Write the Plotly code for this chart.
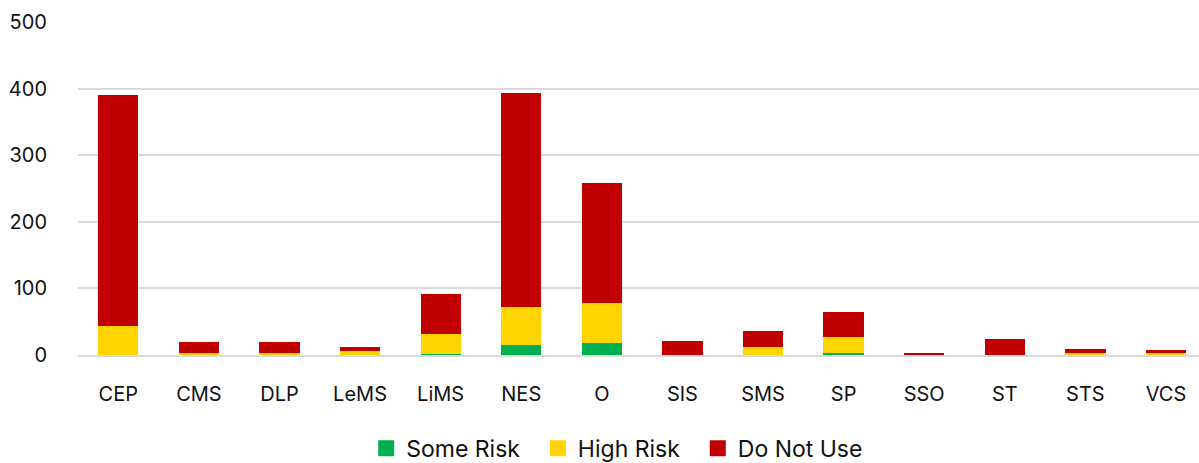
import plotly.graph_objects as go

categories = ["CEP", "CMS", "DLP", "LeMS", "LiMS", "NES", "O", "SIS", "SMS", "SP", "SSO", "ST", "STS", "VCS"]
some_risk = [0, 0, 0, 0, 2, 15, 18, 0, 0, 3, 0, 0, 0, 0]
high_risk = [43, 3, 3, 6, 29, 57, 60, 0, 12, 24, 0, 0, 3, 3]
do_not_use = [348, 16, 16, 6, 60, 322, 181, 21, 24, 37, 2, 24, 6, 4]
y_ticks = [0, 100, 200, 300, 400, 500]

FONT = "Inter"
TEXT = "#111111"
PAD = "\u00a0" * 2
series = [
    ("Some Risk", some_risk, "#00B050"),
    ("High Risk", high_risk, "#FFD500"),
    ("Do Not Use", do_not_use, "#C00000"),
]

fig = go.Figure()
for name, vals, color in series:
    fig.add_trace(go.Bar(x=categories, y=vals, name=name, showlegend=False,
                         marker=dict(color=color, line=dict(width=0))))
# square swatches for the legend
for i, (name, vals, color) in enumerate(series):
    label = name + (PAD if i < len(series) - 1 else "")
    fig.add_trace(go.Scatter(x=[None], y=[None], mode="markers", name=label,
                             marker=dict(symbol="square", size=16, color=color)))

fig.update_layout(
    width=1199,
    height=463,
    barmode="stack",
    bargap=0.5,
    margin=dict(l=78, r=0, t=22, b=108, autoexpand=False),
    paper_bgcolor="white",
    plot_bgcolor="white",
    font=dict(family=FONT, size=20, color=TEXT),
    legend=dict(
        orientation="h",
        traceorder="normal",
        x=0.481,
        xanchor="center",
        y=-0.28,
        yanchor="middle",
        font=dict(family=FONT, size=23, color=TEXT),
        itemwidth=30,
    ),
    xaxis=dict(
        range=[-0.5, 13.41],
        showgrid=False,
        showline=True,
        linecolor="#D9D9D9",
        linewidth=1.5,
        ticks="outside",
        ticklen=20,
        tickcolor="rgba(0,0,0,0)",
    ),
    yaxis=dict(
        range=[0, 500],
        tickvals=y_ticks,
        showgrid=True,
        gridcolor="#D9D9D9",
        gridwidth=1.5,
        zeroline=False,
        ticks="outside",
        ticklen=26,
        tickcolor="rgba(0,0,0,0)",
    ),
)

fig.write_html("out.html")
